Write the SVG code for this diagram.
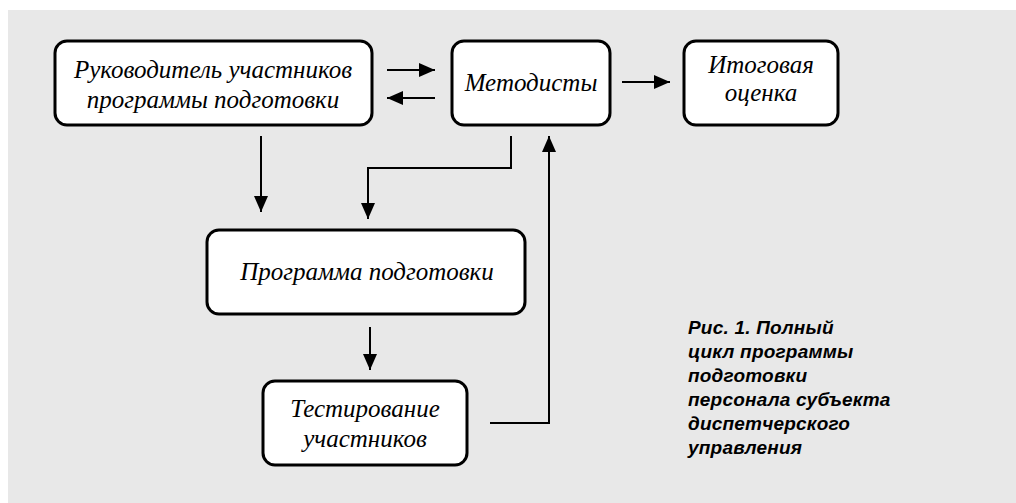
<svg xmlns="http://www.w3.org/2000/svg" width="1016" height="503" viewBox="0 0 1016 503">
<defs>
<style>
.box{fill:#fff;stroke:#000;stroke-width:3}
.t{font-family:"Liberation Serif","Times New Roman",serif;font-style:italic;font-size:25px;fill:#000;text-anchor:middle}
.c{fill:none;stroke:#000;stroke-width:2}
.cap{font-family:"Liberation Sans",Arial,sans-serif;font-style:italic;font-weight:bold;font-size:19px;letter-spacing:0.2px;fill:#000}
</style>
<marker id="ah2" viewBox="0 0 16 14" refX="16" refY="7" markerWidth="16" markerHeight="14" markerUnits="userSpaceOnUse" orient="auto">
<path d="M0,0 L16,7 L0,14 z" fill="#000"/>
</marker>
</defs>
<rect x="8" y="10" width="1008" height="493" fill="#e8e8e8"/>
<g id="connectors">
<path class="c" d="M387,70 H435" marker-end="url(#ah2)"/>
<path class="c" d="M435,98 H387" marker-end="url(#ah2)"/>
<path class="c" d="M622,82 H670" marker-end="url(#ah2)"/>
<path class="c" d="M261,136 V212" marker-end="url(#ah2)"/>
<path class="c" d="M511,136 V168 H368 V219" marker-end="url(#ah2)"/>
<path class="c" d="M370,327 V370" marker-end="url(#ah2)"/>
<path class="c" d="M490,423 H549 V136" marker-end="url(#ah2)"/>
</g>
<g id="n1">
<rect class="box" x="55" y="41" width="317" height="84" rx="12"/>
<text class="t" x="213" y="78">Руководитель участников</text>
<text class="t" x="213" y="108">программы подготовки</text>
</g>
<g id="n2">
<rect class="box" x="452" y="41" width="158" height="84" rx="12"/>
<text class="t" x="531" y="91">Методисты</text>
</g>
<g id="n3">
<rect class="box" x="684" y="41" width="154" height="84" rx="12"/>
<text class="t" x="761" y="73">Итоговая</text>
<text class="t" x="761" y="101">оценка</text>
</g>
<g id="n4">
<rect class="box" x="207" y="230" width="318" height="84" rx="12"/>
<text class="t" x="367" y="280">Программа подготовки</text>
</g>
<g id="n5">
<rect class="box" x="263" y="381" width="204" height="84" rx="12"/>
<text class="t" x="365" y="417">Тестирование</text>
<text class="t" x="365" y="447">участников</text>
</g>
<g id="caption">
<text class="cap" x="688" y="334">Рис. 1. Полный</text>
<text class="cap" x="688" y="358">цикл программы</text>
<text class="cap" x="688" y="382">подготовки</text>
<text class="cap" x="688" y="406">персонала субъекта</text>
<text class="cap" x="688" y="430">диспетчерского</text>
<text class="cap" x="688" y="454">управления</text>
</g>
</svg>
